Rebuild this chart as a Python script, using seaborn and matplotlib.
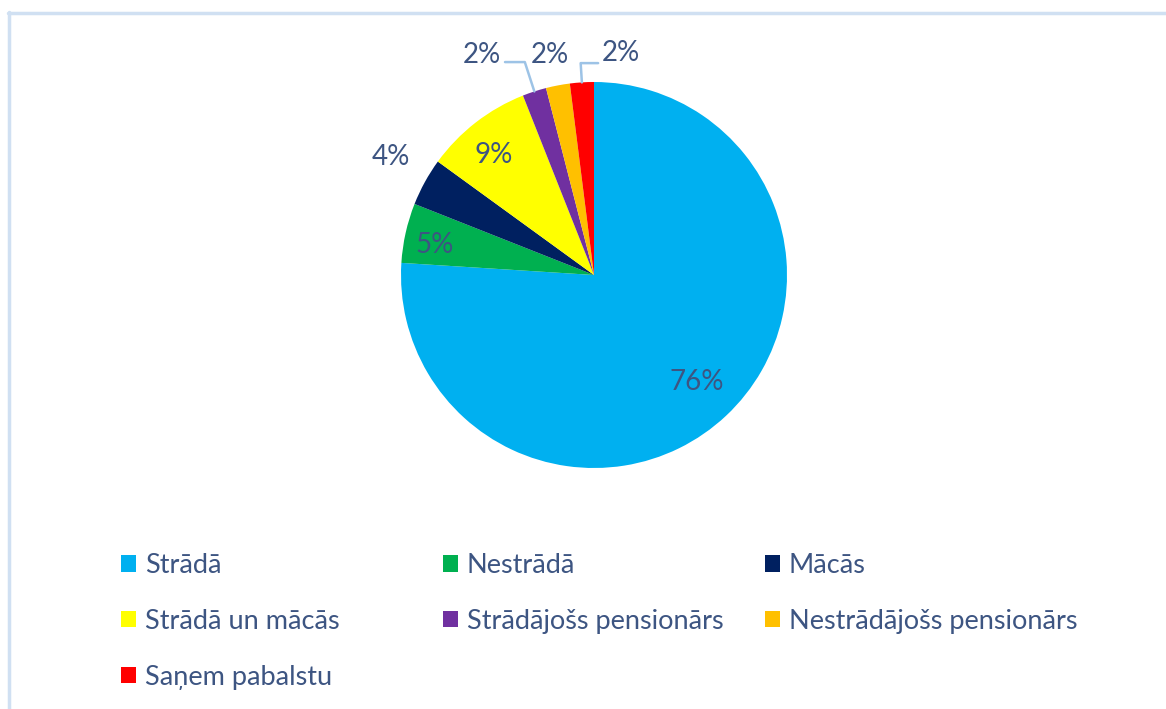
import numpy as np
import matplotlib
matplotlib.use('Agg')
import matplotlib.pyplot as plt
from matplotlib.patches import Patch
from matplotlib.lines import Line2D
import seaborn as sns

# data
categories = ['Strādā', 'Nestrādā', 'Mācās', 'Strādā un mācās',
              'Strādājošs pensionārs', 'Nestrādājošs pensionārs', 'Saņem pabalstu']
shares = [76, 5, 4, 9, 2, 2, 2]
colors = ['#00B0F0', '#00B050', '#002060', '#FFFF00', '#7030A0', '#FFC000', '#FF0000']

# label placement (radius, angle shift in degrees) per slice
label_r = [0.77, 0.84, 1.22, 0.81, 1.28, 1.16, 1.16]
label_shift = [0.7, 1.9, -1.4, 2.0, 9.0, 0.5, -10.6]
leader = {4: 1.16, 6: 1.10}

sns.set_theme(style='white')
plt.rcParams['font.family'] = ['Lato', 'DejaVu Sans']
text_color = '#3D5582'
palette = sns.color_palette(colors)

fig = plt.figure(figsize=(11.66, 7.09), dpi=100)
W, H = 1166, 709
cx, cy, R = 594, 275, 193
ax = fig.add_axes([(cx - R) / W, (H - cy - R) / H, 2 * R / W, 2 * R / H])

wedges, _ = ax.pie(shares, colors=palette, startangle=90, counterclock=False,
                   radius=1, wedgeprops=dict(linewidth=0))
ax.set_xlim(-1, 1)
ax.set_ylim(-1, 1)
ax.set_aspect('equal')
ax.axis('off')

for i, w in enumerate(wedges):
    mid = (w.theta1 + w.theta2) / 2
    ang = np.deg2rad(mid + label_shift[i])
    tx, ty = label_r[i] * np.cos(ang), label_r[i] * np.sin(ang)
    ax.text(tx, ty, f'{shares[i]}%', ha='center', va='center',
            fontsize=20, color=text_color, clip_on=False)
    if i in leader:
        m = np.deg2rad(mid)
        x0, y0 = np.cos(m), np.sin(m)
        ex, ey = leader[i] * np.cos(m), leader[i] * np.sin(m)
        side = 1 if tx > ex else -1
        ax.plot([x0, ex, tx - side * 0.12], [y0, ey, ey], color='#9DC3E6',
                lw=1.8, clip_on=False)

# legend: three columns, row-major order like the original
col_x = [121, 443, 765]
for c in range(3):
    idx = list(range(c, len(categories), 3))
    handles = [Patch(facecolor=palette[k], edgecolor='none') for k in idx]
    leg = fig.legend(handles, [categories[k] for k in idx],
                     loc='upper left', bbox_to_anchor=(col_x[c] / W, 1 - 553 / H),
                     frameon=False, fontsize=19.5, handlelength=0.55, handleheight=0.55,
                     handletextpad=0.33, labelspacing=1.14, borderpad=0, borderaxespad=0)
    for t in leg.get_texts():
        t.set_color(text_color)

# chart area border (top and left visible)
fig.add_artist(Line2D([8 / W, 1], [1 - 13 / H, 1 - 13 / H], color='#D0E0F2', lw=2.5))
fig.add_artist(Line2D([9 / W, 9 / W], [0, 1 - 12 / H], color='#D0E0F2', lw=2.5))

fig.savefig('out.png', dpi=100, facecolor='white')
